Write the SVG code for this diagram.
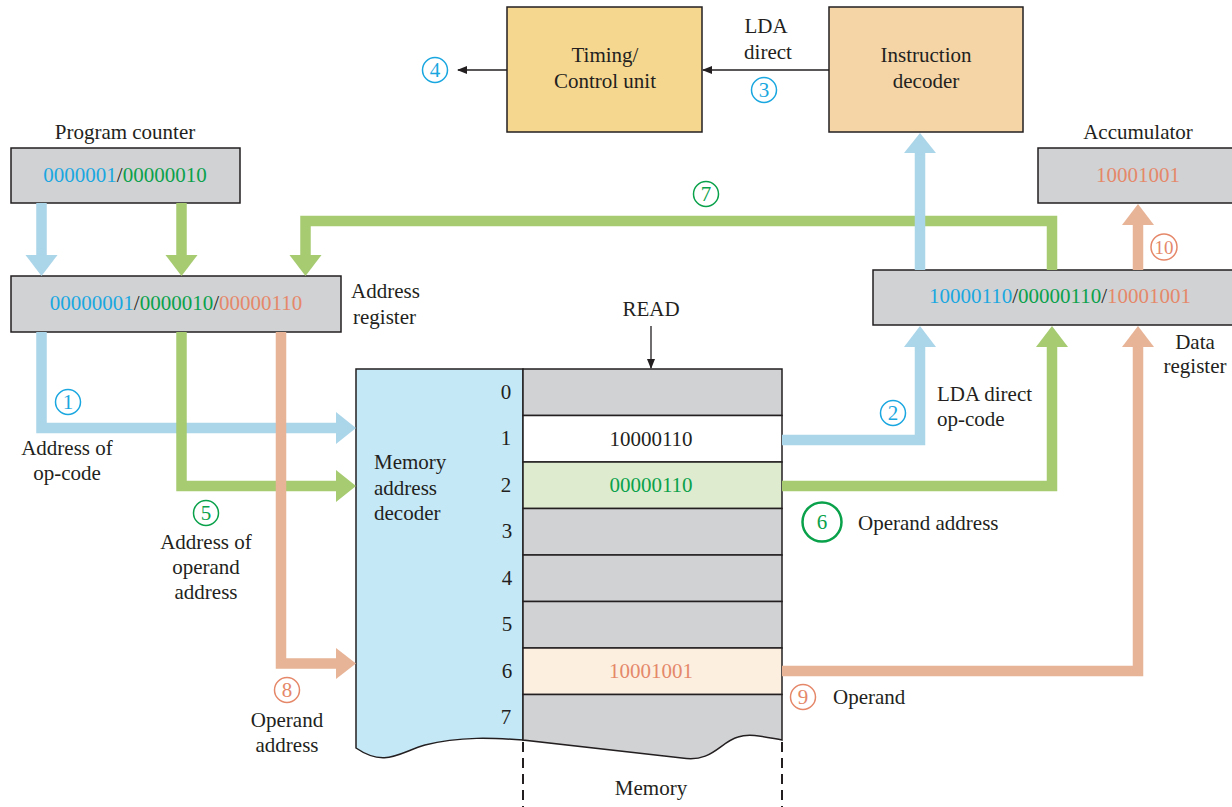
<svg xmlns="http://www.w3.org/2000/svg" width="1232" height="807" viewBox="0 0 1232 807" font-family="Liberation Serif" font-size="21">
<style>
text{fill:#231f20}
.m{text-anchor:middle}
.box{stroke:#231f20;stroke-width:1.5}
.gray{fill:#d1d2d4}
.b{fill:#1aa7e0}.g{fill:#0aa14b}.o{fill:#e5886a}
.cb{fill:none;stroke:#1aa7e0;stroke-width:1.5}
.cg{fill:none;stroke:#0aa14b;stroke-width:1.5}
.co{fill:none;stroke:#e5886a;stroke-width:1.5}
.lb{fill:none;stroke:#abd5e9;stroke-width:10.5;stroke-linejoin:miter}
.lg{fill:none;stroke:#a6cb71;stroke-width:10.5;stroke-linejoin:miter}
.lo{fill:none;stroke:#e8b497;stroke-width:10.5;stroke-linejoin:miter}
.hb{fill:#abd5e9}.hg{fill:#a6cb71}.ho{fill:#e8b497}
.thin{stroke:#231f20;stroke-width:1.3;fill:none}
</style>
<defs>
<marker id="ah" markerWidth="10" markerHeight="8" refX="9" refY="4" orient="auto" markerUnits="userSpaceOnUse">
<path d="M0,0 L10,4 L0,8 Z" fill="#231f20"/>
</marker>
</defs>

<g id="timing-control">
<rect class="box" x="507" y="7" width="195" height="125" fill="#f6d790"/>
<text class="m" x="605" y="62">Timing/</text>
<text class="m" x="605" y="88">Control unit</text>
</g>
<g id="instruction-decoder">
<rect class="box" x="829" y="7" width="194" height="125" fill="#f5d5a6"/>
<text class="m" x="926" y="62">Instruction</text>
<text class="m" x="926" y="88">decoder</text>
</g>
<g id="program-counter">
<text class="m" x="125" y="139">Program counter</text>
<rect class="box gray" x="11" y="148" width="229" height="55"/>
<text class="m" x="125" y="182"><tspan class="b">0000001</tspan>/<tspan class="g">00000010</tspan></text>
</g>
<g id="address-register">
<rect class="box gray" x="11" y="276" width="330" height="56"/>
<text class="m" x="176" y="310"><tspan class="b">00000001</tspan>/<tspan class="g">0000010</tspan>/<tspan class="o">00000110</tspan></text>
<text x="351" y="298">Address</text>
<text x="353" y="324">register</text>
</g>
<g id="accumulator">
<text class="m" x="1138" y="139">Accumulator</text>
<rect class="box gray" x="1038" y="148" width="210" height="55"/>
<text class="m o" x="1138" y="182">10001001</text>
</g>
<g id="data-register">
<rect class="box gray" x="873" y="270" width="375" height="55"/>
<text class="m" x="1060" y="303"><tspan class="b">10000110</tspan>/<tspan class="g">00000110</tspan>/<tspan class="o">10001001</tspan></text>
<text class="m" x="1195" y="349">Data</text>
<text class="m" x="1195" y="373">register</text>
</g>

<g id="memory-address-decoder">
<path class="box" fill="#c5e8f7" d="M356,369 L523,369 L523,740 C495,738 460,736 425,745 C400,752 385,768 356,748 Z"/>
<text x="374" y="469">Memory</text>
<text x="374" y="495">address</text>
<text x="374" y="520">decoder</text>
<text class="m" x="506" y="399">0</text>
<text class="m" x="506" y="445">1</text>
<text class="m" x="506" y="492">2</text>
<text class="m" x="507" y="538">3</text>
<text class="m" x="507" y="585">4</text>
<text class="m" x="507" y="631">5</text>
<text class="m" x="507" y="678">6</text>
<text class="m" x="506" y="724">7</text>
</g>
<g id="memory">
<rect class="box gray" x="523" y="369" width="259" height="46.5"/>
<rect class="box" fill="#ffffff" x="523" y="415.5" width="259" height="46.5"/>
<rect class="box" fill="#dfebcf" x="523" y="462" width="259" height="46.5"/>
<rect class="box gray" x="523" y="508.5" width="259" height="46.5"/>
<rect class="box gray" x="523" y="555" width="259" height="46.5"/>
<rect class="box gray" x="523" y="601.5" width="259" height="46.5"/>
<rect class="box" fill="#fcefe0" x="523" y="648" width="259" height="46.5"/>
<path class="box gray" d="M523,694.5 L782,694.5 L782,740 C765,737 750,733 738,737 C720,742 712,763 682,758 L523,740 Z"/>
<text class="m" x="651" y="446">10000110</text>
<text class="m g" x="651" y="492">00000110</text>
<text class="m o" x="651" y="678">10001001</text>
<path d="M523,742 V807 M782,742 V807" stroke="#231f20" stroke-width="2" stroke-dasharray="10,6"/>
<text class="m" x="651" y="795">Memory</text>
<text class="m" x="651" y="316">READ</text>
</g>

<g id="connectors">
<line class="thin" x1="651" y1="326" x2="651" y2="368" marker-end="url(#ah)"/>
<line class="thin" x1="829" y1="70" x2="703" y2="70" marker-end="url(#ah)"/>
<line class="thin" x1="507" y1="70" x2="458" y2="70" marker-end="url(#ah)"/>

<polyline class="lb" points="41.5,203 41.5,256"/>
<polygon class="hb" points="25.5,255 57.5,255 41.5,276"/>
<polyline class="lb" points="41.5,332 41.5,428 337,428"/>
<polygon class="hb" points="336,412 356,428 336,444"/>
<polyline class="lb" points="782,440 920,440 920,346"/>
<polygon class="hb" points="904,347 936,347 920,326"/>

<polyline class="lg" points="1052,270 1052,221 305.5,221 305.5,256"/>
<polygon class="hg" points="289.5,255 321.5,255 305.5,276"/>
<polyline class="lb" points="920,270 920,152"/>
<polygon class="hb" points="904,153 936,153 920,133"/>

<polyline class="lg" points="181.5,203 181.5,256"/>
<polygon class="hg" points="165.5,255 197.5,255 181.5,276"/>
<polyline class="lg" points="181.5,332 181.5,486 337,486"/>
<polygon class="hg" points="336,470 356,486 336,502"/>
<polyline class="lg" points="782,486 1052,486 1052,346"/>
<polygon class="hg" points="1036,347 1068,347 1052,326"/>

<polyline class="lo" points="281,332 281,663.5 337,663.5"/>
<polygon class="ho" points="336,648 356,663.5 336,679"/>
<polyline class="lo" points="782,671 1138,671 1138,346"/>
<polygon class="ho" points="1122,347 1154,347 1138,326"/>
<polyline class="lo" points="1138,270 1138,224"/>
<polygon class="ho" points="1122,225 1154,225 1138,204"/>
</g>

<g id="labels">
<circle class="cb" cx="68" cy="402" r="12.5"/><text class="m b" x="68" y="409">1</text>
<text class="m" x="67" y="455">Address of</text>
<text class="m" x="67" y="480">op-code</text>
<circle class="cb" cx="893" cy="413" r="12.5"/><text class="m b" x="893" y="420">2</text>
<text x="937" y="401">LDA direct</text>
<text x="937" y="426">op-code</text>
<text class="m" x="766" y="33">LDA</text>
<text class="m" x="768" y="59">direct</text>
<circle class="cb" cx="764" cy="90" r="12.5"/><text class="m b" x="764" y="97">3</text>
<circle class="cb" cx="435" cy="70" r="12.5"/><text class="m b" x="435" y="77">4</text>
<circle class="cg" cx="206" cy="513" r="12.5"/><text class="m g" x="206" y="520">5</text>
<text class="m" x="206" y="549">Address of</text>
<text class="m" x="206" y="574">operand</text>
<text class="m" x="206" y="599">address</text>
<circle cx="822" cy="522" r="19.5" fill="none" stroke="#0aa14b" stroke-width="2.5"/><text class="m g" x="822" y="529">6</text>
<text x="858" y="530">Operand address</text>
<circle class="cg" cx="706" cy="194" r="12.5"/><text class="m g" x="706" y="201">7</text>
<circle class="co" cx="287" cy="690" r="12.5"/><text class="m o" x="287" y="697">8</text>
<text class="m" x="287" y="727">Operand</text>
<text class="m" x="287" y="752">address</text>
<circle class="co" cx="803" cy="697" r="12.5"/><text class="m o" x="803" y="704">9</text>
<text x="833" y="704">Operand</text>
<circle class="co" cx="1164" cy="247" r="13"/><text class="m o" x="1164" y="254" font-size="19">10</text>
</g>
</svg>
